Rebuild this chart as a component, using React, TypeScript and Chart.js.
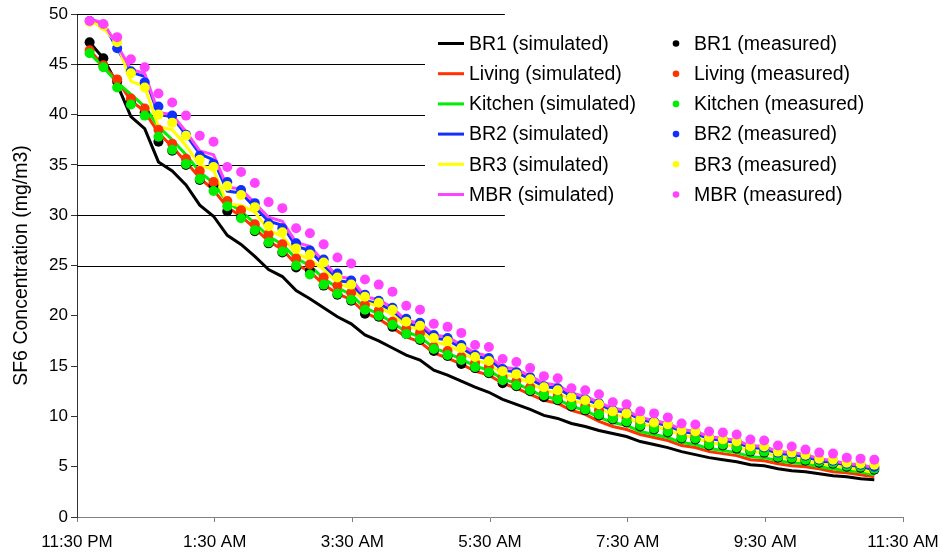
import React, { useEffect, useRef } from "react";
import { Chart, registerables } from "chart.js";

Chart.register(...registerables);

// Time of each sample, minutes after 11:30 PM
const minutes = [
  11, 23, 35, 47, 59, 71, 83, 95, 107, 119, 131, 143, 155, 167, 179, 191, 203, 215, 227, 239,
  251, 263, 275, 287, 299, 311, 323, 335, 347, 359, 371, 383, 395, 407, 419, 431, 443, 455, 467,
  479, 491, 503, 515, 527, 539, 551, 563, 575, 587, 599, 611, 623, 635, 647, 659, 671, 683, 695,
];

const tickLabels = ["11:30 PM", "1:30 AM", "3:30 AM", "5:30 AM", "7:30 AM", "9:30 AM", "11:30 AM"];

const roomNames = ["BR1", "Living", "Kitchen", "BR2", "BR3", "MBR"];
const roomColors = ["#000000", "#FF3300", "#00EE00", "#1030FF", "#FFFF00", "#FF44FF"];

// Simulated
const br1Sim = [
  47.2, 45.6, 43.0, 39.8, 38.6, 35.3, 34.4, 33.0, 31.0, 29.9, 28.0, 27.1,
  25.9, 24.6, 23.9, 22.5, 21.7, 20.8, 19.9, 19.2, 18.1, 17.5, 16.8, 16.1, 15.6,
  14.6, 14.1, 13.5, 12.9, 12.4, 11.7, 11.2, 10.7, 10.1, 9.8, 9.3, 9.0, 8.6,
  8.3, 8.0, 7.5, 7.2, 6.9, 6.5, 6.2, 5.9, 5.7, 5.5, 5.2,
  5.1, 4.8, 4.6, 4.5, 4.3, 4.1, 4.0, 3.8, 3.7,
];
const livingSim = [
  46.4, 44.9, 43.4, 41.4, 40.3, 38.2, 36.8, 35.3, 33.7, 32.5, 30.8, 29.9,
  28.7, 27.4, 26.6, 25.1, 24.4, 23.1, 22.2, 21.6, 20.3, 19.7, 18.8, 17.9, 17.4,
  16.3, 15.8, 15.2, 14.5, 14.1, 13.3, 12.8, 12.2, 11.6, 11.3, 10.6, 10.2, 9.5,
  9.0, 8.7, 8.2, 7.9, 7.6, 7.1, 6.9, 6.5, 6.3, 6.1, 5.7,
  5.6, 5.3, 5.1, 5.0, 4.8, 4.5, 4.4, 4.2, 4.0,
];
const kitchenSim = [
  46.1, 44.7, 43.2, 42.0, 40.8, 38.8, 37.5, 36.0, 34.3, 33.2, 31.3, 30.4,
  29.2, 27.9, 27.1, 25.7, 25.0, 23.7, 22.8, 22.1, 20.8, 20.2, 19.3, 18.4, 17.9,
  16.8, 16.3, 15.7, 15.0, 14.6, 13.7, 13.3, 12.6, 12.0, 11.7, 11.0, 10.6, 9.9,
  9.4, 9.1, 8.5, 8.2, 7.9, 7.4, 7.2, 6.8, 6.6, 6.4, 6.0,
  5.9, 5.6, 5.4, 5.3, 5.0, 4.8, 4.6, 4.5, 4.2,
];
const br2Sim = [
  49.4, 49.0, 46.6, 44.2, 43.8, 40.0, 39.8, 38.0, 36.1, 35.5, 32.4, 32.2,
  30.8, 29.4, 29.0, 26.9, 26.5, 25.0, 23.5, 23.3, 21.5, 21.2, 20.5, 19.2, 19.0,
  17.8, 17.6, 16.8, 16.0, 15.7, 14.6, 14.4, 13.7, 13.0, 12.8, 12.0, 11.7, 11.2,
  10.6, 10.4, 9.7, 9.4, 9.1, 8.5, 8.3, 7.8, 7.6, 7.4, 6.9,
  6.8, 6.3, 6.2, 6.0, 5.6, 5.4, 5.1, 5.0, 4.7,
];
const br3Sim = [
  49.4, 48.6, 47.1, 43.3, 42.8, 38.8, 38.5, 36.9, 35.0, 34.5, 31.1, 31.0,
  30.3, 28.5, 27.9, 26.2, 25.6, 24.6, 23.3, 22.7, 21.4, 20.9, 20.1, 19.0, 18.6,
  17.4, 17.1, 16.4, 15.6, 15.2, 14.2, 13.9, 13.3, 12.6, 12.3, 11.6, 11.3, 10.8,
  10.2, 9.9, 9.3, 9.0, 8.7, 8.1, 7.9, 7.4, 7.2, 7.0, 6.5,
  6.4, 6.0, 5.8, 5.6, 5.3, 5.1, 4.9, 4.7, 4.4,
];
const mbrSim = [
  49.5, 49.1, 46.9, 44.5, 44.1, 40.2, 40.0, 38.3, 36.4, 36.0, 32.8, 32.6,
  31.2, 29.8, 29.4, 27.3, 26.9, 25.4, 23.9, 23.7, 21.9, 21.6, 20.8, 19.5, 19.3,
  18.1, 17.9, 17.1, 16.3, 16.0, 14.9, 14.7, 14.0, 13.3, 13.1, 12.3, 12.0, 11.4,
  10.8, 10.6, 9.9, 9.6, 9.3, 8.7, 8.5, 8.0, 7.8, 7.6, 7.1,
  7.0, 6.5, 6.4, 6.2, 5.8, 5.6, 5.3, 5.2, 4.9,
];

// Measured
const br1Meas = [
  47.2, 45.6, 43.3, 41.2, 40.2, 37.3, 36.4, 35.0, 33.5, 33.0, 30.4, 29.8,
  28.4, 27.2, 26.3, 24.8, 24.5, 23.0, 22.1, 21.5, 20.2, 19.9, 18.9, 18.2, 17.6,
  16.5, 16.0, 15.2, 14.8, 14.3, 13.3, 13.0, 12.5, 11.9, 11.6, 11.0, 10.6, 10.1,
  9.7, 9.4, 9.0, 8.7, 8.4, 7.8, 7.7, 7.1, 7.1, 6.8, 6.5,
  6.4, 5.9, 5.8, 5.6, 5.4, 5.3, 5.0, 4.9, 4.7,
];
const livingMeas = [
  46.4, 44.9, 43.5, 41.6, 40.6, 38.5, 37.1, 35.6, 34.4, 33.3, 31.4, 30.5,
  29.1, 28.1, 27.1, 25.7, 25.1, 23.8, 23.0, 22.3, 21.1, 20.5, 19.4, 18.7, 18.3,
  16.9, 16.5, 15.9, 15.3, 14.9, 13.9, 13.5, 12.9, 12.3, 12.0, 11.3, 11.0, 10.6,
  10.1, 9.8, 9.3, 9.0, 8.7, 8.1, 8.0, 7.4, 7.3, 7.1, 6.7,
  6.6, 6.2, 6.0, 5.8, 5.6, 5.5, 5.2, 5.1, 4.9,
];
const kitchenMeas = [
  46.1, 44.7, 42.7, 41.0, 39.9, 37.8, 36.5, 35.1, 33.6, 32.4, 30.9, 29.7,
  28.5, 27.3, 26.4, 25.0, 24.1, 23.1, 22.2, 21.6, 20.6, 20.0, 19.1, 18.2, 17.7,
  16.7, 16.1, 15.6, 14.9, 14.4, 13.6, 13.1, 12.6, 12.1, 11.7, 11.1, 10.7, 10.2,
  9.8, 9.5, 9.1, 8.8, 8.5, 7.9, 7.8, 7.2, 7.2, 6.9, 6.6,
  6.5, 6.0, 5.9, 5.7, 5.5, 5.4, 5.1, 5.0, 4.8,
];
const br2Meas = [
  49.3, 48.9, 46.6, 44.3, 43.2, 40.8, 39.9, 38.0, 35.9, 35.1, 33.3, 32.5,
  31.2, 29.2, 28.7, 27.2, 26.5, 25.6, 24.2, 23.5, 22.1, 21.5, 20.8, 19.7, 19.3,
  18.1, 17.8, 17.1, 16.1, 15.8, 14.7, 14.4, 13.9, 13.0, 12.8, 12.0, 11.7, 11.3,
  10.6, 10.4, 9.7, 9.5, 9.2, 8.6, 8.5, 7.9, 7.7, 7.5, 7.0,
  6.9, 6.4, 6.3, 6.1, 5.7, 5.6, 5.3, 5.2, 5.0,
];
const br3Meas = [
  49.2, 48.8, 47.2, 44.1, 42.7, 40.0, 39.2, 37.9, 35.5, 34.8, 32.9, 32.0,
  30.8, 28.9, 28.3, 26.7, 26.1, 25.3, 23.8, 23.1, 21.9, 21.3, 20.6, 19.4, 19.0,
  17.8, 17.5, 16.8, 15.9, 15.5, 14.5, 14.2, 13.7, 12.9, 12.6, 11.9, 11.6, 11.2,
  10.5, 10.3, 9.7, 9.4, 9.2, 8.6, 8.5, 7.9, 7.7, 7.5, 7.0,
  7.0, 6.5, 6.4, 6.2, 5.8, 5.7, 5.4, 5.3, 5.2,
];
const mbrMeas = [
  49.3, 49.0, 47.7, 45.5, 44.7, 42.1, 41.2, 39.9, 37.9, 37.3, 34.8, 34.3,
  33.2, 31.3, 30.7, 28.7, 28.2, 27.1, 25.8, 25.2, 23.6, 23.1, 22.4, 21.0, 20.6,
  19.2, 18.9, 18.3, 17.1, 16.9, 15.7, 15.4, 14.8, 14.0, 13.8, 12.8, 12.6, 12.2,
  11.4, 11.2, 10.5, 10.3, 9.9, 9.3, 9.2, 8.5, 8.4, 8.2, 7.7,
  7.6, 7.1, 7.0, 6.7, 6.4, 6.3, 5.9, 5.8, 5.7,
];

const simulated = [br1Sim, livingSim, kitchenSim, br2Sim, br3Sim, mbrSim];
const measured = [br1Meas, livingMeas, kitchenMeas, br2Meas, br3Meas, mbrMeas];

const FONT = "'Liberation Sans', Arial, Helvetica, sans-serif";
const gridValues = [25, 30, 35, 40, 45, 50];

const toPoints = (vals: number[]) => vals.map((v, i) => ({ x: minutes[i], y: v }));

const customPlugin = {
  id: "gridAndLegend",
  beforeDatasetsDraw(chart: any) {
    const { ctx, chartArea, scales } = chart;
    const xEnd = chartArea.left + (chartArea.right - chartArea.left) * 0.518;
    ctx.save();
    ctx.strokeStyle = "#000";
    ctx.lineWidth = 1;
    for (const v of gridValues) {
      const py = Math.round(scales.y.getPixelForValue(v)) + 0.5;
      ctx.beginPath();
      ctx.moveTo(chartArea.left, py);
      ctx.lineTo(xEnd, py);
      ctx.stroke();
    }
    ctx.restore();
  },
  afterDatasetsDraw(chart: any) {
    const { ctx } = chart;
    ctx.save();
    ctx.fillStyle = "#fff";
    ctx.fillRect(425, 24, 480, 186);
    ctx.font = `19.5px ${FONT}`;
    ctx.textBaseline = "middle";
    ctx.textAlign = "left";
    for (let i = 0; i < roomNames.length; i++) {
      const y = 43.5 + i * 30.2;
      ctx.strokeStyle = roomColors[i];
      ctx.lineWidth = 3;
      ctx.beginPath();
      ctx.moveTo(438, y);
      ctx.lineTo(464, y);
      ctx.stroke();
      ctx.fillStyle = "#000";
      ctx.fillText(`${roomNames[i]} (simulated)`, 469, y + 1);
      ctx.fillStyle = roomColors[i];
      ctx.beginPath();
      ctx.arc(676, y, 3.3, 0, Math.PI * 2);
      ctx.fill();
      ctx.fillStyle = "#000";
      ctx.fillText(`${roomNames[i]} (measured)`, 694, y + 1);
    }
    ctx.restore();
  },
};

export default function App() {
  const canvasRef = useRef<HTMLCanvasElement | null>(null);

  useEffect(() => {
    if (!canvasRef.current) return;
    const datasets: any[] = [];
    simulated.forEach((vals, i) => {
      datasets.push({
        type: "line",
        label: `${roomNames[i]} (simulated)`,
        data: toPoints(vals),
        borderColor: roomColors[i],
        backgroundColor: roomColors[i],
        borderWidth: 3,
        pointRadius: 0,
        tension: 0,
        fill: false,
        order: 12 - i,
      });
    });
    measured.forEach((vals, i) => {
      datasets.push({
        type: "line",
        label: `${roomNames[i]} (measured)`,
        data: toPoints(vals),
        showLine: false,
        borderColor: roomColors[i],
        backgroundColor: roomColors[i],
        pointBackgroundColor: roomColors[i],
        pointBorderWidth: 0,
        pointRadius: 5,
        order: 6 - i,
      });
    });

    const chart = new Chart(canvasRef.current, {
      type: "line",
      data: { datasets },
      plugins: [customPlugin],
      options: {
        responsive: false,
        animation: false,
        devicePixelRatio: 1,
        layout: { padding: { left: 0, right: 40, top: 14, bottom: 0 } },
        plugins: {
          legend: { display: false },
          tooltip: { enabled: false },
        },
        scales: {
          x: {
            type: "linear",
            min: 0,
            max: 720,
            afterFit: (s: any) => {
              s.height = 38;
              s.paddingLeft = 0;
              s.paddingRight = 0;
            },
            border: { display: true, color: "#808080", width: 1 },
            grid: { drawOnChartArea: false, drawTicks: true, tickLength: 5, color: "#808080" },
            ticks: {
              stepSize: 120,
              autoSkip: false,
              maxRotation: 0,
              padding: 10,
              color: "#000",
              font: { family: FONT, size: 17 },
              callback: (v: any) => tickLabels[Math.round(Number(v) / 120)] ?? "",
            },
          },
          y: {
            min: 0,
            max: 50,
            afterFit: (s: any) => {
              s.width = 77;
              s.paddingTop = 0;
              s.paddingBottom = 0;
            },
            border: { display: true, color: "#333", width: 1 },
            grid: { drawOnChartArea: false, drawTicks: true, tickLength: 6, color: "#333" },
            ticks: {
              stepSize: 5,
              padding: 3,
              color: "#000",
              font: { family: FONT, size: 17 },
            },
            title: {
              display: true,
              text: "SF6 Concentration (mg/m3)",
              color: "#000",
              font: { family: FONT, size: 19.5 },
              padding: { top: 10, bottom: 0 },
            },
          },
        },
      },
    });
    return () => chart.destroy();
  }, []);

  return (
    <div style={{ position: "absolute", left: 0, top: 0, width: 943, height: 555, background: "#fff" }}>
      <canvas ref={canvasRef} width={943} height={555} style={{ width: 943, height: 555, display: "block" }} />
    </div>
  );
}
